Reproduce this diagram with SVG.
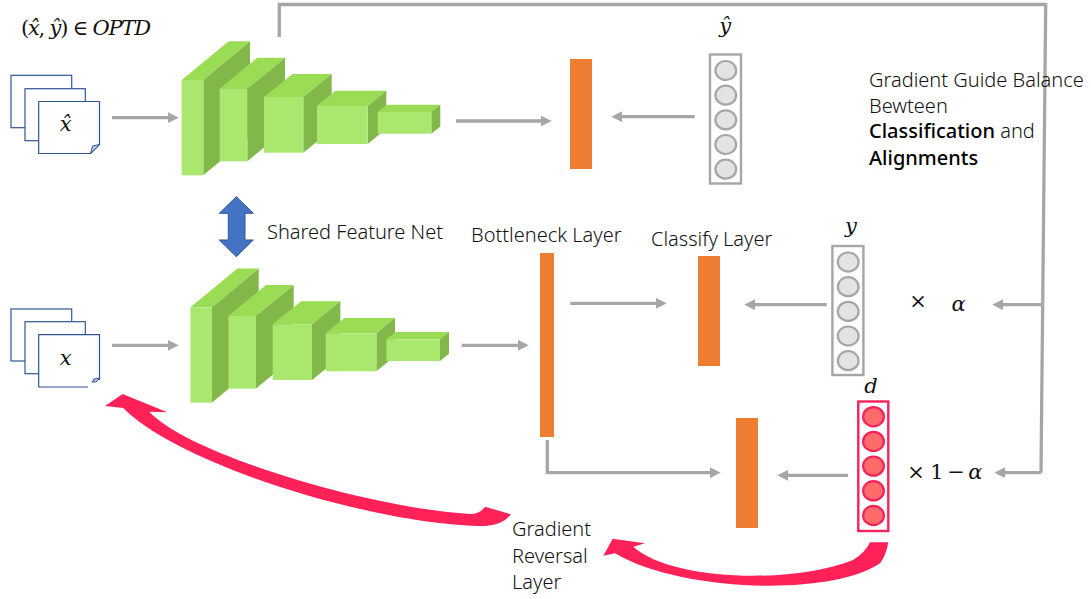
<svg xmlns="http://www.w3.org/2000/svg" xmlns:xlink="http://www.w3.org/1999/xlink" width="1091" height="599" viewBox="0 0 1091 599">
<style>
.t{font-family:"Noto Sans","Liberation Sans",sans-serif;font-size:20px;font-weight:300;fill:#111}
.b{font-weight:500;fill:#000}
.m{font-family:"DejaVu Serif","Liberation Serif",serif;font-size:21px;fill:#111}
.i{font-style:italic}
.c{text-anchor:middle}
.front{fill:#aae76f}.top{fill:#9add55}.side{fill:#82b84a}
.or{fill:#ed7d31}
.doc{fill:#fff;stroke:#2f5597;stroke-width:1.2}
.fold{fill:#b4c7e7;stroke:#2f5597;stroke-width:1}
.gb{fill:#fff;stroke:#a6a6a6;stroke-width:2.4}
.gd{fill:#e3e3e3;stroke:#a6a6a6;stroke-width:2.2}
.rb{fill:#fff;stroke:#f5235a;stroke-width:2.4}
.rd{fill:#ff6b6b;stroke:#f5235a;stroke-width:2.2}
.ln{fill:none;stroke:#a6a6a6;stroke-width:3.3}
.ar{marker-end:url(#h)}
.red{fill:#ff2157}
</style>
<defs>
<marker id="h" markerUnits="userSpaceOnUse" markerWidth="11" markerHeight="11" refX="3" refY="5" orient="auto" viewBox="0 0 10 10"><path d="M0 0L10 5L0 10z" fill="#a6a6a6"/></marker>
<g id="stack">
<path class="top" d="M181.7 80L228.7 41.3H250L203.3 80z"/><path class="side" d="M203.3 80L250 41.3V136.6L203.3 175.3z"/><rect class="front" x="181.7" y="80" width="21.6" height="95.3"/>
<path class="top" d="M219.7 88.7L257.3 57.7H285L247.3 88.7z"/><path class="side" d="M247.3 88.7L285 57.7V130.3L247.3 161.3z"/><rect class="front" x="219.7" y="88.7" width="27.6" height="72.6"/>
<path class="top" d="M264 97L292.4 74H331.7L303.3 97z"/><path class="side" d="M303.3 97L331.7 74V129.7L303.3 152.7z"/><rect class="front" x="264" y="97" width="39.3" height="55.7"/>
<path class="top" d="M317 106L335.6 90.7H386.3L367.7 106z"/><path class="side" d="M367.7 106L386.3 90.7V128.7L367.7 144z"/><rect class="front" x="317" y="106" width="50.7" height="38"/>
<path class="top" d="M377.7 112L386.7 104.7H440.3L431.3 112z"/><path class="side" d="M431.3 112L440.3 104.7V126.4L431.3 133.7z"/><rect class="front" x="377.7" y="112" width="53.6" height="21.7"/>
</g>
<g id="grayCol">
<rect class="gb" x="0" y="0" width="31" height="129"/>
<ellipse class="gd" cx="15.8" cy="16" rx="10.4" ry="9.5"/><ellipse class="gd" cx="15.8" cy="40.7" rx="10.4" ry="9.5"/><ellipse class="gd" cx="15.8" cy="65.4" rx="10.4" ry="9.5"/><ellipse class="gd" cx="15.8" cy="90" rx="10.4" ry="9.5"/><ellipse class="gd" cx="15.8" cy="114.7" rx="10.4" ry="9.5"/>
</g>
</defs>

<g id="connectors">
<path class="ln" d="M279.3 37V4.5H1045.7L1041 472.7"/>
<path class="ln ar" d="M112 117.7H171"/>
<path class="ln ar" d="M456 121H544"/>
<path class="ln ar" d="M694.7 116.7H619"/>
<path class="ln ar" d="M112 345.3H171"/>
<path class="ln ar" d="M461.7 345.3H521"/>
<path class="ln ar" d="M570.3 303.3H659"/>
<path class="ln ar" d="M826.7 304.7H752"/>
<path class="ln ar" d="M547.3 440V472.7H713"/>
<path class="ln ar" d="M848 475.3H785"/>
<path class="ln ar" d="M1041 304.7H1000"/>
<path class="ln ar" d="M1041 472.7H1002"/>
</g>

<g id="gradient-arrows">
<path id="rev-long" class="red" d="M105 406L122.7 394L167.3 412.3L149.3 411.7C190 455 370 508 470 514Q480 514 485 506.7L511 514.3Q503 525 485 526C380 526 180 466 123.3 408z"/>
<path id="rev-short" class="red" d="M603.3 555.7L612.7 538.7L645 543.3L633.3 546.7C670 580 790 585 853 560Q865 553 870 542.3H888.3Q886 556 880 563.3C830 597 680 592 615 553.3z"/>
</g>

<g id="doc-top">
<rect class="doc" x="11" y="75.3" width="60.7" height="52.4"/>
<rect class="doc" x="25" y="88.7" width="60.3" height="52"/>
<path class="doc" d="M38.7 101.5H99.5V144.5L90.7 153.5H38.7z"/>
<path class="fold" d="M90.7 153.5L92.5 146L99.5 144.5z"/>
<text class="m i c" x="65.7" y="130.7">x&#770;</text>
</g>
<g id="doc-bottom">
<rect class="doc" x="11" y="309" width="60.7" height="52"/>
<rect class="doc" x="25" y="321.7" width="60.3" height="52"/>
<path class="doc" d="M88 387H38.7V334.7H99.5V380"/>
<path class="fold" d="M92 382L94 379L100 378L96 382z"/>
<text class="m i c" x="65.7" y="365">x</text>
</g>

<g id="stack-top"><use xlink:href="#stack" href="#stack"/></g>
<g id="stack-bottom"><use xlink:href="#stack" href="#stack" transform="translate(8.7 227.3)"/></g>

<g id="shared-arrow"><path d="M236.3 196.7L253.3 213.3H245V240H253.3L236.3 256.7L219.3 240H228.3V213.3H219.3z" fill="#4472c4" stroke="#2f5597" stroke-width="1"/></g>

<g id="layer-top"><rect class="or" x="570" y="59" width="22" height="110"/></g>
<g id="layer-bottleneck"><rect class="or" x="540" y="253" width="14" height="184"/></g>
<g id="layer-classify"><rect class="or" x="698" y="256" width="22" height="110"/></g>
<g id="layer-domain"><rect class="or" x="736" y="418" width="22" height="110"/></g>

<g id="col-yhat"><use xlink:href="#grayCol" href="#grayCol" transform="translate(710 54.5)"/><text class="m i c" x="725.3" y="33.3">y&#770;</text></g>
<g id="col-y"><use xlink:href="#grayCol" href="#grayCol" transform="translate(832.4 246)"/><text class="m i c" x="851" y="232.7">y</text></g>
<g id="col-d">
<rect class="rb" x="858.3" y="401.5" width="30" height="129.5"/>
<ellipse class="rd" cx="873.5" cy="416.7" rx="10.4" ry="9.6"/><ellipse class="rd" cx="873.5" cy="441.4" rx="10.4" ry="9.6"/><ellipse class="rd" cx="873.5" cy="466.1" rx="10.4" ry="9.6"/><ellipse class="rd" cx="873.5" cy="490.8" rx="10.4" ry="9.6"/><ellipse class="rd" cx="873.5" cy="515.5" rx="10.4" ry="9.6"/>
<text class="m i c" x="871" y="392.7">d</text>
</g>

<g id="labels">
<text class="m" x="21" y="34.7" textLength="130">(<tspan class="i">x&#770;</tspan>, <tspan class="i">y&#770;</tspan>) ∈ <tspan class="i">OPTD</tspan></text>
<text class="t" x="267" y="239.3">Shared Feature Net</text>
<text class="t" x="471" y="242">Bottleneck Layer</text>
<text class="t" x="651" y="245.7">Classify Layer</text>
<text class="t" x="512" y="536">Gradient</text>
<text class="t" x="512" y="562.7">Reversal</text>
<text class="t" x="512" y="588.7">Layer</text>
<text class="t" x="869" y="87.3">Gradient Guide Balance</text>
<text class="t" x="869" y="113.3">Bewteen</text>
<text class="t" x="869" y="138.3"><tspan class="b">Classification</tspan> and</text>
<text class="t b" x="869" y="165">Alignments</text>
<text class="m c" x="918" y="308" font-size="24">×</text>
<text class="m i c" x="958.7" y="311">α</text>
<text class="m c" x="916" y="479.3" font-size="24">×</text>
<text class="m c" x="937" y="479.3">1</text>
<text class="m c" x="956" y="479.3">−</text>
<text class="m i c" x="975.3" y="479.3">α</text>
</g>
</svg>
